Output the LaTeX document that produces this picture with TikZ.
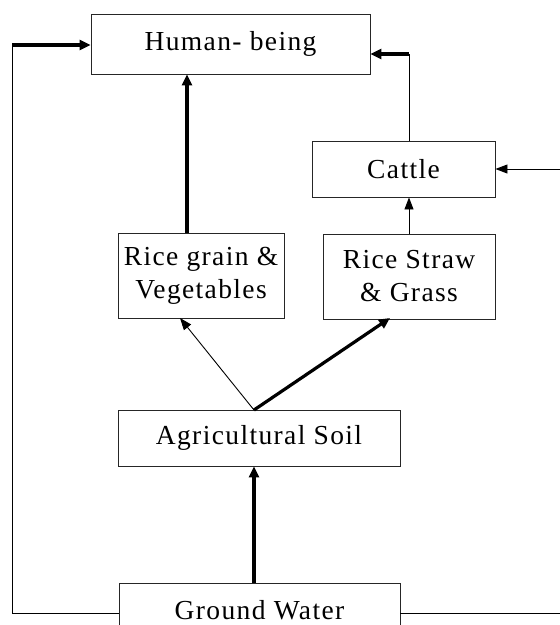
\documentclass[tikz,border=0pt]{standalone}
\usepackage{fontspec}
\setmainfont{Liberation Serif}[LetterSpace=5]
\usetikzlibrary{arrows.meta}
\begin{document}
\begin{tikzpicture}[x=1pt,y=-1pt,
  box/.style={draw=black!85,line width=0.9pt,inner sep=0pt,align=center,
    font=\fontsize{27.5}{33}\selectfont},
  thin/.style={line width=0.9pt,-{Triangle[length=12pt,width=9pt]}},
  thick/.style={line width=3.2pt,-{Triangle[length=11pt,width=10pt]}},
  plain/.style={line width=0.9pt}]
\useasboundingbox (0,0) rectangle (560,625);
\clip (0,0) rectangle (560,625);
\node[box,minimum width=279pt,minimum height=60pt] (human) at (230.5,44) {Human- being};
\node[box,minimum width=183pt,minimum height=56pt] (cattle) at (403.5,169) {Cattle};
\node[box,minimum width=172pt,minimum height=85pt] (straw) at (409,276.5) {Rice Straw\\ \& Grass};
\node[box,minimum width=166pt,minimum height=85pt] (grain) at (201,275.5) {Rice grain \&\\ Vegetables};
\node[box,minimum width=282pt,minimum height=56pt] (soil) at (259,438) {Agricultural Soil};
\node[box,minimum width=281pt,minimum height=54pt] (ground) at (259.5,610) {Ground Water};
\coordinate (apex) at (254,410);
\coordinate (lc) at (12,613);
\coordinate (lt) at (12,45);
\coordinate (rt) at (409,54);
\coordinate (rb) at (565,613);
\coordinate (rc) at (565,169);
% ground -> soil
\draw[thick] (254,583) -- (soil.south -| apex);
% soil -> grain, straw
\draw[thin] (apex) -- (180,318);
\draw[thick] (apex) -- (390,318);
% grain -> human
\draw[thick] (grain.north -| 187,0) -- (human.south -| 187,0);
% straw -> cattle
\draw[thin] (straw.north -| rt) -- (cattle.south -| rt);
% cattle -> human
\draw[plain] (cattle.north -| rt) -- (rt);
\draw[thick] (rt) -- (human.east |- rt);
% ground -> human (left loop)
\draw[plain] (ground.west |- lc) -- (lc) -- (lt);
\draw[thick] (lt) -- (human.west |- lt);
% ground -> cattle (right loop)
\draw[plain] (ground.east |- rb) -- (rb) -- (rc);
\draw[thin] (rc) -- (cattle.east);
\end{tikzpicture}
\end{document}
